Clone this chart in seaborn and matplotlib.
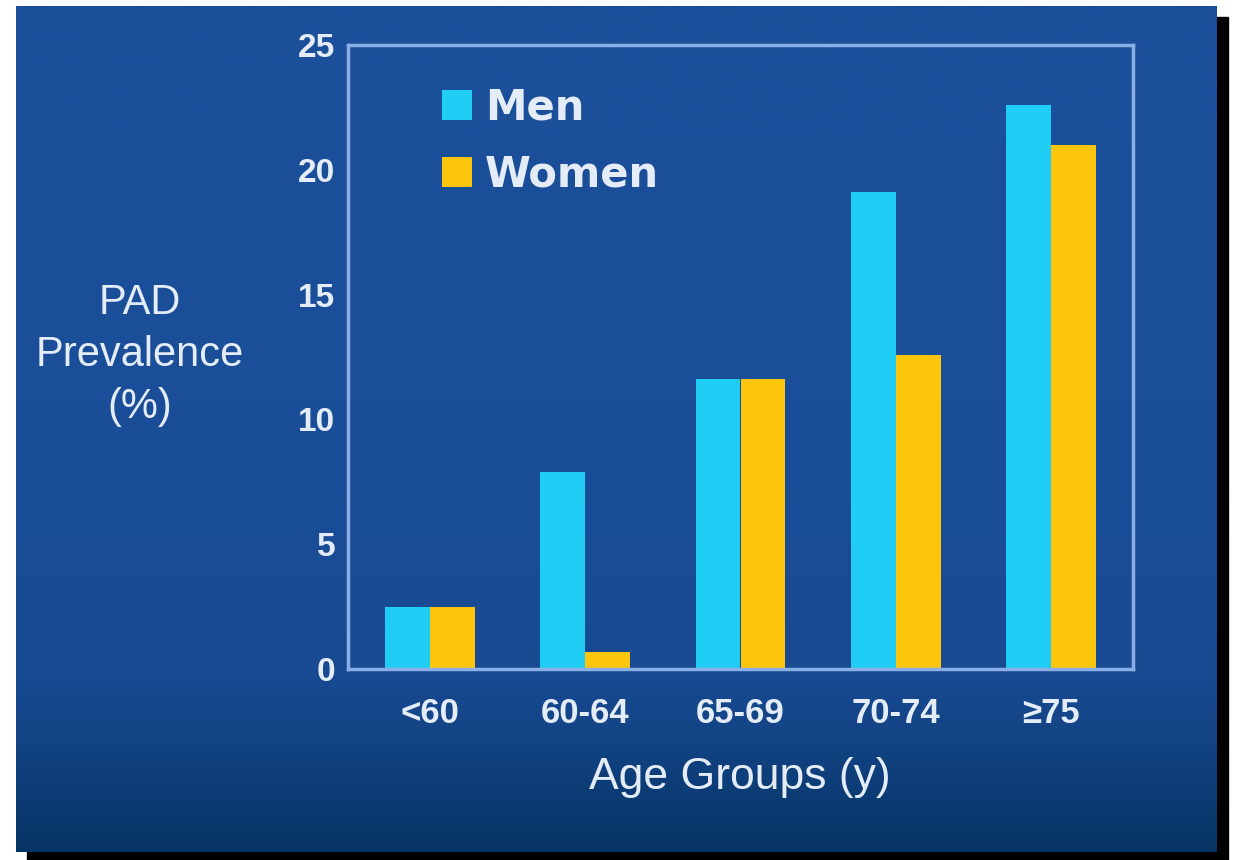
import numpy as np
import pandas as pd
import matplotlib
matplotlib.use("Agg")
import matplotlib.pyplot as plt
from matplotlib.patches import Rectangle
from matplotlib.colors import LinearSegmentedColormap
import seaborn as sns

# data
age_groups = ["<60", "60-64", "65-69", "70-74", "≥75"]
men = [2.5, 7.9, 11.6, 19.1, 22.6]
women = [2.5, 0.7, 11.6, 12.6, 21.0]
yticks = [0, 5, 10, 15, 20, 25]

df = pd.DataFrame({
    "age": age_groups * 2,
    "value": men + women,
    "sex": ["Men"] * len(men) + ["Women"] * len(women),
})

sns.set_style("white")
plt.rcParams['font.family'] = ['Liberation Sans', 'DejaVu Sans']

txt_col = "#e4ecf7"
frame_col = "#8aaee6"
palette = {"Men": "#20cdf4", "Women": "#fdc60c"}

fig = plt.figure(figsize=(12.4, 8.6), dpi=100, facecolor="white")

# drop shadow + slide background
fig.patches.append(Rectangle((27 / 1240, 0), 1201 / 1240, 843 / 860,
                             transform=fig.transFigure, color="black", zorder=0))
bg = fig.add_axes([16 / 1240, 8 / 860, 1201 / 1240, 846 / 860])
bg.set_zorder(0.5)
grad = np.linspace(0, 1, 300) ** 3
cmap = LinearSegmentedColormap.from_list("slide", ["#1b4f9a", "#184a92", "#053464"])
bg.imshow(grad[:, None], aspect="auto", cmap=cmap, extent=[0, 1, 0, 1])
bg.axis("off")

ax = fig.add_axes([348 / 1240, 1 - 669 / 860, 785 / 1240, 624 / 860])
ax.set_zorder(1)
ax.set_facecolor("none")

sns.barplot(data=df, x="age", y="value", hue="sex", palette=palette,
            width=0.58, saturation=1, dodge=True, ax=ax, errorbar=None,
            linewidth=0)

ax.set_xlim(-0.53, 4.53)
ax.set_ylim(0, 25)
ax.set_yticks(yticks)
ax.set_yticklabels([str(t) for t in yticks], fontsize=24, fontweight="bold", color=txt_col)
ax.set_xticks(range(len(age_groups)))
ax.set_xticklabels(age_groups, fontsize=25, fontweight="bold", color=txt_col)
ax.tick_params(axis="y", length=0, pad=9)
ax.tick_params(axis="x", length=0, pad=20)
ax.set_xlabel("")
ax.set_ylabel("")
for s in ax.spines.values():
    s.set_color(frame_col)
    s.set_linewidth(2.5)

leg = ax.legend(loc="upper left", bbox_to_anchor=(0.12, 0.933), frameon=False,
                prop={"family": "DejaVu Sans", "size": 30, "weight": "bold"},
                handlelength=0.72, handleheight=0.72,
                handletextpad=0.3, labelspacing=0.6, borderpad=0, borderaxespad=0)
for t in leg.get_texts():
    t.set_color(txt_col)
for h in leg.legend_handles:
    h.set_linewidth(0)

fig.text(140 / 1240, 1 - 355 / 860, "PAD\nPrevalence\n(%)", ha="center", va="center",
         fontsize=30, color=txt_col, linespacing=1.4)
fig.text(740 / 1240, 1 - 778 / 860, "Age Groups (y)", ha="center", va="center",
         fontsize=32, color=txt_col)

fig.savefig("out.png", dpi=100, facecolor="white")
